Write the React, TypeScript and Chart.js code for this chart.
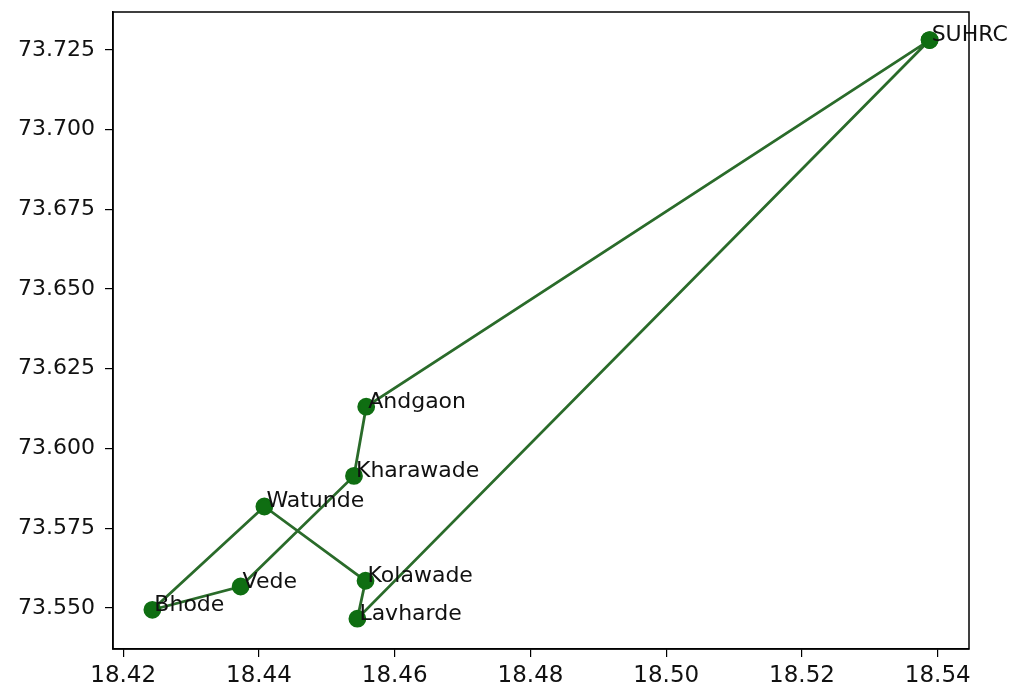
import React, { useEffect, useRef } from "react";
import { Chart, registerables } from "chart.js";

Chart.register(...registerables);

const placeNames = ["SUHRC", "Andgaon", "Kharawade", "Vede", "Bhode", "Watunde", "Kolawade", "Lavharde"];
const placeX = [18.5388, 18.4558, 18.4540, 18.4373, 18.4243, 18.4408, 18.4557, 18.4545];
const placeY = [73.7281, 73.6131, 73.5914, 73.5567, 73.5494, 73.5818, 73.5585, 73.5466];
const routeOrder = ["SUHRC", "Andgaon", "Kharawade", "Vede", "Bhode", "Watunde", "Kolawade", "Lavharde", "SUHRC"];

const xTickValues = [18.42, 18.44, 18.46, 18.48, 18.5, 18.52, 18.54];
const yTickValues = [73.55, 73.575, 73.6, 73.625, 73.65, 73.675, 73.7, 73.725];

const FONT = "'DejaVu Sans', sans-serif";

export default function App() {
  const ref = useRef<HTMLCanvasElement | null>(null);

  useEffect(() => {
    if (!ref.current) return;
    const routePoints = routeOrder.map((n) => {
      const i = placeNames.indexOf(n);
      return { x: placeX[i], y: placeY[i] };
    });

    const labelPlugin = {
      id: "labelsAndFrame",
      afterDatasetsDraw(chart: any) {
        const ctx = chart.ctx;
        const xs = chart.scales.x;
        const ys = chart.scales.y;
        ctx.save();
        ctx.fillStyle = "#111";
        ctx.font = `22px ${FONT}`;
        ctx.textAlign = "left";
        ctx.textBaseline = "alphabetic";
        placeNames.forEach((n, i) => {
          const px = xs.getPixelForValue(placeX[i]);
          const py = ys.getPixelForValue(placeY[i]);
          ctx.fillText(n, px + 2, py + 1);
        });
        const a = chart.chartArea;
        ctx.strokeStyle = "#000";
        ctx.lineWidth = 1.5;
        ctx.strokeRect(a.left, a.top, a.right - a.left, a.bottom - a.top);
        ctx.restore();
      },
    };

    const chart = new Chart(ref.current, {
      type: "scatter",
      data: {
        datasets: [
          {
            data: routePoints,
            showLine: true,
            borderColor: "#2a6b2a",
            borderWidth: 2.8,
            pointBackgroundColor: "#0f6e12",
            pointBorderColor: "#0f6e12",
            pointRadius: 7.5,
            pointHoverRadius: 7.5,
            tension: 0,
          },
        ],
      },
      options: {
        animation: false,
        responsive: false,
        events: [],
        layout: { padding: { left: 0, right: 50, top: 12, bottom: 0 } },
        plugins: { legend: { display: false }, tooltip: { enabled: false } },
        scales: {
          x: {
            type: "linear",
            min: 18.4185,
            max: 18.5446,
            afterBuildTicks: (s: any) => {
              s.ticks = xTickValues.map((v) => ({ value: v }));
            },
            afterFit: (s: any) => {
              s.height = 40;
              s.paddingLeft = 0;
              s.paddingRight = 0;
            },
            ticks: {
              callback: (v: any) => Number(v).toFixed(2),
              font: { family: FONT, size: 23 },
              color: "#111",
              padding: 5,
              maxRotation: 0,
              autoSkip: false,
            },
            grid: { drawOnChartArea: false, drawTicks: true, tickLength: 8, color: "#000", lineWidth: 1.2 },
            border: { display: true, color: "#000", width: 1.5 },
          },
          y: {
            type: "linear",
            min: 73.5371,
            max: 73.7369,
            afterBuildTicks: (s: any) => {
              s.ticks = yTickValues.map((v) => ({ value: v }));
            },
            afterFit: (s: any) => {
              s.width = 113;
              s.paddingTop = 0;
              s.paddingBottom = 0;
            },
            ticks: {
              callback: (v: any) => Number(v).toFixed(3),
              font: { family: FONT, size: 22 },
              color: "#111",
              padding: 10,
              autoSkip: false,
            },
            grid: { drawOnChartArea: false, drawTicks: true, tickLength: 8, color: "#000", lineWidth: 1.2 },
            border: { display: true, color: "#000", width: 1.5 },
          },
        },
      },
      plugins: [labelPlugin],
    });
    return () => chart.destroy();
  }, []);

  return (
    <div style={{ position: "fixed", left: 0, top: 0, width: 1019, height: 689, background: "#fff" }}>
      <canvas ref={ref} width={1019} height={689} style={{ width: 1019, height: 689, display: "block" }} />
    </div>
  );
}
